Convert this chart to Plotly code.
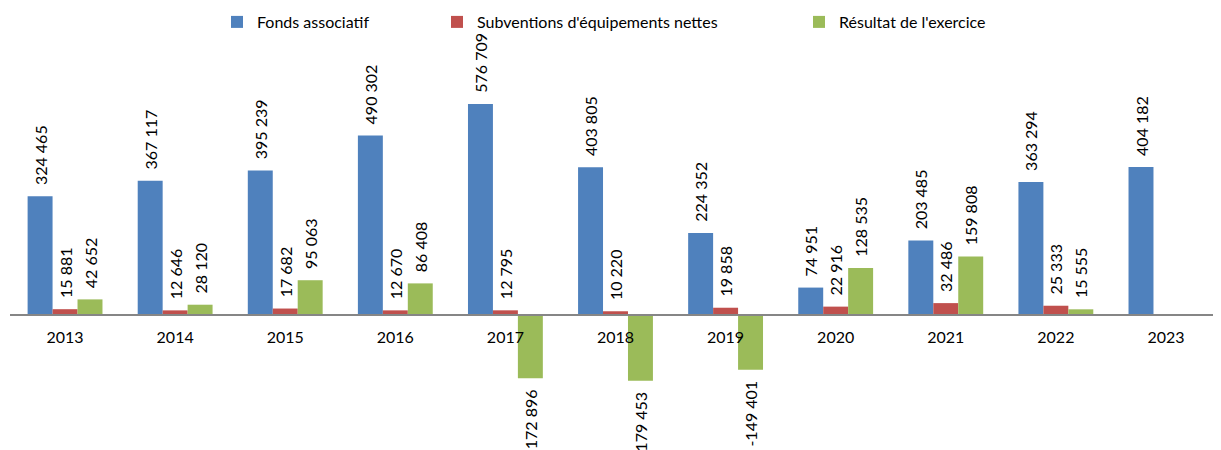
import plotly.graph_objects as go

years = ["2013", "2014", "2015", "2016", "2017", "2018", "2019", "2020", "2021", "2022", "2023"]
fonds = [324465, 367117, 395239, 490302, 576709, 403805, 224352, 74951, 203485, 363294, 404182]
subv = [15881, 12646, 17682, 12670, 12795, 10220, 19858, 22916, 32486, 25333, None]
resultat = [42652, 28120, 95063, 86408, -172896, -179453, -149401, 128535, 159808, 15555, None]

names = ["Fonds associatif", "Subventions d'équipements nettes", "Résultat de l'exercice"]
colors = ["#4F81BD", "#C0504D", "#9BBB59"]


def fmt(v):
    if v is None:
        return ""
    s = f"{abs(v):,}".replace(",", " ")
    if v < 0:
        return "-" + s + "\u00a0\u00a0"
    return "\u00a0\u00a0" + s


FONT = "Lato"
OFF = 8  # page body margin
W, H = 1221 - OFF, 450 - OFF
ML, MR, MT, MB = 10 - OFF, 0, 40 - OFF, 0
zero_px = 315 - OFF
plot_h = H - MT - MB
plot_w = W - ML - MR
k = 211 / 576709  # px per unit
ymax = (zero_px - MT) / k
ymin = -(H - MB - zero_px) / k

fig = go.Figure()
legend_ids = ["legend", "legend2", "legend3"]
legend_left_px = [217, 437, 799]
for i, (vals, name, col) in enumerate(zip([fonds, subv, resultat], names, colors)):
    fig.add_trace(go.Bar(
        x=years, y=vals, name=name,
        marker=dict(color=col, line=dict(width=0)),
        text=[fmt(v) for v in vals],
        textposition="outside", textangle=-90,
        textfont=dict(family=FONT, size=16, color="#000000"),
        constraintext="none", cliponaxis=False,
        legend=legend_ids[i],
    ))

leg_common = dict(orientation="h", yanchor="middle", y=1 + (MT - (22 - OFF)) / plot_h,
                  xanchor="left", font=dict(family=FONT, size=16, color="#000000"),
                  bgcolor="rgba(0,0,0,0)", borderwidth=0)
layout_legends = {}
for lid, px in zip(legend_ids, legend_left_px):
    layout_legends[lid] = dict(leg_common, x=(px - OFF - ML) / plot_w)

fig.update_layout(
    width=W, height=H,
    margin=dict(l=ML, r=MR, t=MT, b=MB, autoexpand=False),
    paper_bgcolor="white", plot_bgcolor="white",
    barmode="group", bargap=0.32, bargroupgap=0,
    showlegend=True,
    xaxis=dict(type="category", anchor="free",
               position=(H - MB - zero_px) / plot_h,
               showline=True, linecolor="#868686", linewidth=1.5,
               showgrid=False, ticks="", zeroline=False,
               tickfont=dict(family=FONT, size=16, color="#000000"),
               ticklabelstandoff=8),
    yaxis=dict(range=[ymin, ymax], visible=False, showgrid=False, zeroline=False),
    **layout_legends,
)

fig.write_html("out.html")
